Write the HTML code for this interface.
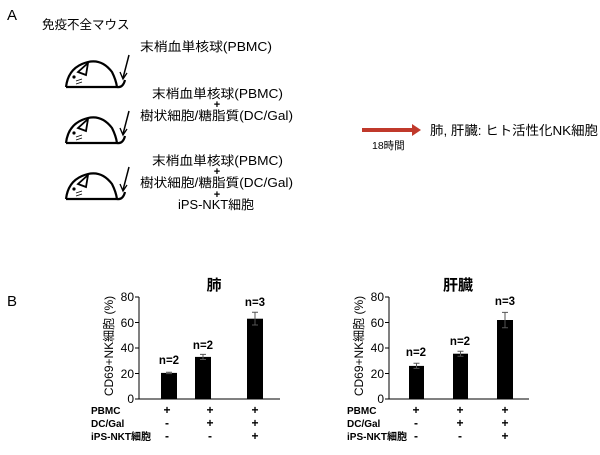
<!DOCTYPE html>
<html><head><meta charset="utf-8"><style>
html,body{margin:0;padding:0;background:#fff}
svg text{font-family:"Liberation Sans","Noto Sans CJK JP",sans-serif;fill:#000}
</style></head><body>
<svg width="600" height="450" viewBox="0 0 600 450" xmlns="http://www.w3.org/2000/svg">
<defs>
<g id="mouse" fill="none" stroke="#000" stroke-width="2.2">
<path d="M66,87 L117,87"/>
<path d="M66,87 Q68,70 82,64 Q100,56 112,72 Q116,80 117,87"/>
<path d="M117,87 Q123,88 125,80"/>
<path d="M78,72 L88,63 L86,75 Z" stroke-width="1.8"/>
<circle cx="74" cy="77" r="1.6" fill="#000" stroke="none"/>
<path d="M76,81 L82,79 M76,84 L82,82" stroke-width="0.9"/>
<path d="M129,55 L123,78" stroke-width="1.5"/>
<path d="M120,72 L123,79 L127,73" stroke-width="1.3"/>
</g>
</defs>
<text x="7" y="20" font-size="15">A</text>
<text x="42" y="29" font-size="12.5">免疫不全マウス</text>
<use href="#mouse"/>
<use href="#mouse" y="56"/>
<use href="#mouse" y="112"/>
<g font-size="12.5">
<text x="140" y="51" textLength="132" lengthAdjust="spacingAndGlyphs">末梢血単核球(PBMC)</text>
<text x="152" y="98" textLength="131" lengthAdjust="spacingAndGlyphs">末梢血単核球(PBMC)</text>
<text x="140" y="120" textLength="153" lengthAdjust="spacingAndGlyphs">樹状細胞/糖脂質(DC/Gal)</text>
<text x="152" y="165" textLength="131" lengthAdjust="spacingAndGlyphs">末梢血単核球(PBMC)</text>
<text x="140" y="187" textLength="153" lengthAdjust="spacingAndGlyphs">樹状細胞/糖脂質(DC/Gal)</text>
<text x="178" y="209" textLength="76" lengthAdjust="spacingAndGlyphs">iPS-NKT細胞</text>
</g>
<g font-size="11" font-weight="bold" text-anchor="middle">
<text x="217" y="108">+</text><text x="217" y="175">+</text><text x="217" y="198">+</text>
</g>
<path d="M362,130 L414,130" stroke="#c0392b" stroke-width="4"/>
<path d="M412,124 L421,130 L412,136 Z" fill="#c0392b"/>
<text x="372" y="149" font-size="10.5">18時間</text>
<text x="430" y="135" font-size="13" textLength="168" lengthAdjust="spacingAndGlyphs">肺, 肝臓: ヒト活性化NK細胞</text>
<text x="7" y="306" font-size="15">B</text>

<g>
<text x="214" y="290" font-size="15" font-weight="bold" text-anchor="middle">肺</text>
<path d="M139,297 L139,399 L280,399" fill="none" stroke="#000" stroke-width="1"/>
<g stroke="#000"><path d="M135,297H139M135,322.5H139M135,348H139M135,373.5H139M135,399H139"/></g>
<g font-size="12" text-anchor="end"><text x="134" y="301">80</text><text x="134" y="327">60</text><text x="134" y="352">40</text><text x="134" y="378">20</text><text x="134" y="403">0</text></g>
<text transform="translate(113,346) rotate(-90)" font-size="12" text-anchor="middle">CD69+NK細胞 (%)</text>
<rect x="161" y="372.9" width="16" height="26.1" fill="#000"/>
<rect x="195" y="356.9" width="16" height="42.1" fill="#000"/>
<rect x="247" y="318.7" width="16" height="80.3" fill="#000"/>
<g stroke="#555" fill="none"><path d="M169,372.3V373.6M166,372.3H172M166,373.6H172"/><path d="M203,354.4V359.5M200,354.4H206M200,359.5H206"/><path d="M255,312.3V325M252,312.3H258M252,325H258"/></g>
<g font-size="11.5" font-weight="bold" text-anchor="middle"><text x="169" y="364">n=2</text><text x="203" y="349">n=2</text><text x="255" y="306">n=3</text></g>
<g font-size="10" font-weight="bold"><text x="91" y="414">PBMC</text><text x="91" y="427">DC/Gal</text><text x="91" y="440">iPS-NKT細胞</text></g>
<g font-size="12" font-weight="bold" text-anchor="middle">
<text x="167" y="414">+</text><text x="210" y="414">+</text><text x="255" y="414">+</text>
<text x="167" y="427">-</text><text x="210" y="427">+</text><text x="255" y="427">+</text>
<text x="167" y="440">-</text><text x="210" y="440">-</text><text x="255" y="440">+</text>
</g>
</g>

<g>
<text x="458" y="290" font-size="15" font-weight="bold" text-anchor="middle">肝臓</text>
<path d="M389,297 L389,399 L529,399" fill="none" stroke="#000" stroke-width="1"/>
<g stroke="#000"><path d="M385,297H389M385,322.5H389M385,348H389M385,373.5H389M385,399H389"/></g>
<g font-size="12" text-anchor="end"><text x="384" y="301">80</text><text x="384" y="327">60</text><text x="384" y="352">40</text><text x="384" y="378">20</text><text x="384" y="403">0</text></g>
<text transform="translate(363,346) rotate(-90)" font-size="12" text-anchor="middle">CD69+NK細胞 (%)</text>
<rect x="409" y="365.9" width="15" height="33.1" fill="#000"/>
<rect x="453" y="353.7" width="15" height="45.3" fill="#000"/>
<rect x="497" y="320" width="16" height="79" fill="#000"/>
<g stroke="#555" fill="none"><path d="M416.5,363.3V368.4M413.5,363.3H419.5M413.5,368.4H419.5"/><path d="M460.5,351.2V356.2M457.5,351.2H463.5M457.5,356.2H463.5"/><path d="M505,312.4V327.7M502,312.4H508M502,327.7H508"/></g>
<g font-size="11.5" font-weight="bold" text-anchor="middle"><text x="416" y="356">n=2</text><text x="460" y="345">n=2</text><text x="505" y="305">n=3</text></g>
<g font-size="10" font-weight="bold"><text x="347" y="414">PBMC</text><text x="347" y="427">DC/Gal</text><text x="347" y="440">iPS-NKT細胞</text></g>
<g font-size="12" font-weight="bold" text-anchor="middle">
<text x="416" y="414">+</text><text x="460" y="414">+</text><text x="505" y="414">+</text>
<text x="416" y="427">-</text><text x="460" y="427">+</text><text x="505" y="427">+</text>
<text x="416" y="440">-</text><text x="460" y="440">-</text><text x="505" y="440">+</text>
</g>
</g>
</svg>
</body></html>
